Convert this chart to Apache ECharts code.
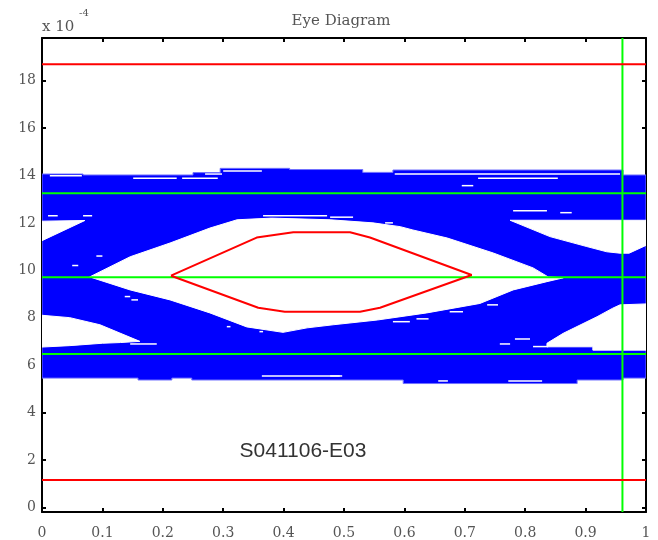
<!DOCTYPE html>
<html><head><meta charset="utf-8">
<script src="https://cdn.jsdelivr.net/npm/echarts@6/dist/echarts.min.js"></script>
<style>html,body{margin:0;padding:0;background:#fff}#c{width:658px;height:540px}</style>
</head><body><div id="c"></div>
<script>
// ---- data (y values in units of 1e-4) ----
const titleText = 'Eye Diagram';
const labelText = 'S041106-E03';
const yTicks = [0, 2, 4, 6, 8, 10, 12, 14, 16, 18];
const xRange = [0, 1];
const yRange = [-0.2, 19.8];

// outer envelope of the traces
const blueTop = [[0,14.06],[0.068,14.06],[0.068,14.02],[0.25,14.02],[0.25,14.12],[0.295,14.12],[0.295,14.3],[0.41,14.3],[0.41,14.25],[0.531,14.25],[0.531,14.13],[0.581,14.13],[0.581,14.23],[0.962,14.23],[0.962,14.02],[1,14.02]];
const blueBottom = [[0,5.45],[0.159,5.45],[0.159,5.37],[0.215,5.37],[0.215,5.45],[0.248,5.45],[0.248,5.37],[0.598,5.37],[0.598,5.22],[0.886,5.22],[0.886,5.37],[0.962,5.37],[0.962,5.45],[1,5.45]];

// open (white) regions inside the envelope
const eyeOpen = [[0.079,9.72],[0.146,10.57],[0.212,11.15],[0.278,11.78],[0.323,12.13],[0.38,12.2],[0.477,12.13],[0.548,12.0],[0.593,11.84],[0.614,11.7],[0.671,11.36],[0.747,10.73],[0.813,10.1],[0.838,9.72],[0.863,9.68],[0.836,9.52],[0.78,9.17],[0.725,8.6],[0.637,8.2],[0.555,7.9],[0.482,7.7],[0.439,7.57],[0.399,7.38],[0.339,7.61],[0.278,8.2],[0.212,8.75],[0.146,9.17]];
const upperLeftOpen = [[0,12.07],[0.071,12.1],[0,11.25]];
const lowerLeftOpen = [[0,8.1],[0.046,8.0],[0.096,7.7],[0.129,7.35],[0.162,7.0],[0.13,6.95],[0.1,6.92],[0.046,6.82],[0,6.76]];
const upperRightOpen = [[0.775,12.11],[1,12.11],[1,11.05],[0.972,10.72],[0.957,10.72],[0.935,10.78],[0.902,11.0],[0.841,11.42]];
const lowerRightOpen = [[0.836,6.92],[0.863,7.34],[0.919,8.04],[0.945,8.4],[0.957,8.54],[1,8.58],[1,6.63],[0.912,6.63],[0.912,6.77],[0.836,6.77]];

// thin white gaps between traces: [x1, x2, y]
const gaps = [
  [0.013,0.066,13.99],[0.151,0.223,13.88],[0.232,0.291,13.88],[0.27,0.298,14.06],[0.3,0.364,14.19],
  [0.01,0.026,12.3],[0.068,0.083,12.3],[0.366,0.472,12.3],[0.584,0.957,14.06],[0.722,0.854,13.88],
  [0.695,0.714,13.57],[0.78,0.836,12.51],[0.858,0.877,12.43],[0.477,0.515,12.24],[0.568,0.581,12.0],
  [0.146,0.19,6.89],[0.364,0.493,5.54],[0.477,0.497,5.54],[0.656,0.672,5.33],[0.772,0.828,5.33],
  [0.758,0.775,6.89],[0.813,0.838,6.78],[0.783,0.808,7.1],[0.581,0.609,7.83],[0.675,0.697,8.25],
  [0.737,0.755,8.54],[0.62,0.64,7.95],[0.137,0.146,8.89],[0.148,0.159,8.75],[0.306,0.312,7.62],
  [0.36,0.366,7.41],[0.05,0.06,10.2],[0.09,0.1,10.6]
];

// reference lines
const redLevels = [18.69, 1.15];
const greenLevels = [13.25, 9.70, 6.47];
const greenX = 0.961;
// mask (eye opening) polygon
const maskEye = [[0.2136,9.77],[0.3554,11.38],[0.416,11.6],[0.51,11.6],[0.543,11.38],[0.7114,9.8],[0.5596,8.42],[0.5265,8.25],[0.402,8.25],[0.358,8.42],[0.2136,9.77]];

// ---- chart ----
const chart = echarts.init(document.getElementById('c'), null, {renderer: 'canvas'});
const serif = 'DejaVu Serif';
const labelColor = '#555';

function polySeries(polys, color, z, stroke) {
  return {
    type: 'custom', z: z, silent: true, clip: true, animation: false,
    data: polys.map(p => [p[0][0], p[0][1]]),
    renderItem: function (params, api) {
      const pts = polys[params.dataIndex].map(p => api.coord(p));
      return {type: 'polygon', shape: {points: pts}, style: {fill: color, stroke: stroke || color, lineWidth: 1}};
    }
  };
}
function lineSeries(data, color, width, z) {
  return {
    type: 'line', data: data, showSymbol: false, symbol: 'none', z: z, silent: true, animation: false,
    lineStyle: {color: color, width: width}, clip: true
  };
}

const envelope = blueTop.concat(blueBottom.slice().reverse());
const series = [
  polySeries([envelope], '#0000ff', 1, '#7070ff'),
  polySeries([eyeOpen, upperLeftOpen, lowerLeftOpen, upperRightOpen, lowerRightOpen], '#ffffff', 2),
  {
    type: 'custom', z: 3, silent: true, clip: true, animation: false,
    data: gaps.map(g => [g[0], g[2], g[1]]),
    renderItem: function (params, api) {
      const g = gaps[params.dataIndex];
      const a = api.coord([g[0], g[2]]), b = api.coord([g[1], g[2]]);
      return {type: 'line', shape: {x1: a[0], y1: a[1], x2: b[0], y2: b[1]}, style: {stroke: '#ffffff', lineWidth: 1.5}};
    }
  }
];
greenLevels.forEach(v => series.push(lineSeries([[xRange[0], v], [xRange[1], v]], '#00ff00', 2, 4)));
series.push(lineSeries([[greenX, yRange[0]], [greenX, yRange[1]]], '#00ff00', 2, 4));
redLevels.forEach(v => series.push(lineSeries([[xRange[0], v], [xRange[1], v]], '#ff0000', 2, 5)));
series.push(lineSeries(maskEye, '#ff0000', 2, 5));

const axisLineStyle = {color: '#000', width: 2};
const option = {
  animation: false,
  backgroundColor: '#fff',
  grid: {left: 42, right: 12, top: 38, bottom: 28, containLabel: false},
  xAxis: [
    {type: 'value', min: xRange[0], max: xRange[1], interval: 0.1, position: 'bottom',
     axisLine: {show: true, onZero: false, lineStyle: axisLineStyle},
     axisTick: {show: true, inside: true, length: 4, lineStyle: {color: '#000', width: 2}},
     axisLabel: {show: true, margin: 14, color: labelColor, fontFamily: serif, fontSize: 14},
     splitLine: {show: false}},
    {type: 'value', min: xRange[0], max: xRange[1], interval: 0.1, position: 'top',
     axisLine: {show: true, onZero: false, lineStyle: axisLineStyle},
     axisTick: {show: true, inside: true, length: 4, lineStyle: {color: '#000', width: 2}},
     axisLabel: {show: false}, splitLine: {show: false}}
  ],
  yAxis: [
    {type: 'value', min: yRange[0], max: yRange[1], position: 'left',
     axisLine: {show: true, onZero: false, lineStyle: axisLineStyle},
     axisTick: {show: true, inside: true, length: 4, lineStyle: {color: '#000', width: 2}, customValues: yTicks},
     axisLabel: {show: true, margin: 6, color: labelColor, fontFamily: serif, fontSize: 14, customValues: yTicks},
     splitLine: {show: false}},
    {type: 'value', min: yRange[0], max: yRange[1], position: 'right',
     axisLine: {show: true, onZero: false, lineStyle: axisLineStyle},
     axisTick: {show: true, inside: true, length: 4, lineStyle: {color: '#000', width: 2}, customValues: yTicks},
     axisLabel: {show: false}, splitLine: {show: false}}
  ],
  graphic: [
    {type: 'text', x: 341, y: 21, style: {text: titleText, fill: labelColor, font: '15px "DejaVu Serif"', align: 'center', verticalAlign: 'middle'}},
    {type: 'text', x: 42, y: 27, style: {text: 'x 10', fill: labelColor, font: '15px "DejaVu Serif"', align: 'left', verticalAlign: 'middle'}},
    {type: 'text', x: 79, y: 13, style: {text: '-4', fill: labelColor, font: '10px "DejaVu Serif"', align: 'left', verticalAlign: 'middle'}},
    {type: 'text', x: 303, y: 451, z: 10, style: {text: labelText, fill: '#333', font: '21px "Liberation Sans"', align: 'center', verticalAlign: 'middle'}}
  ],
  series: series
};
chart.setOption(option);
</script>
</body></html>
